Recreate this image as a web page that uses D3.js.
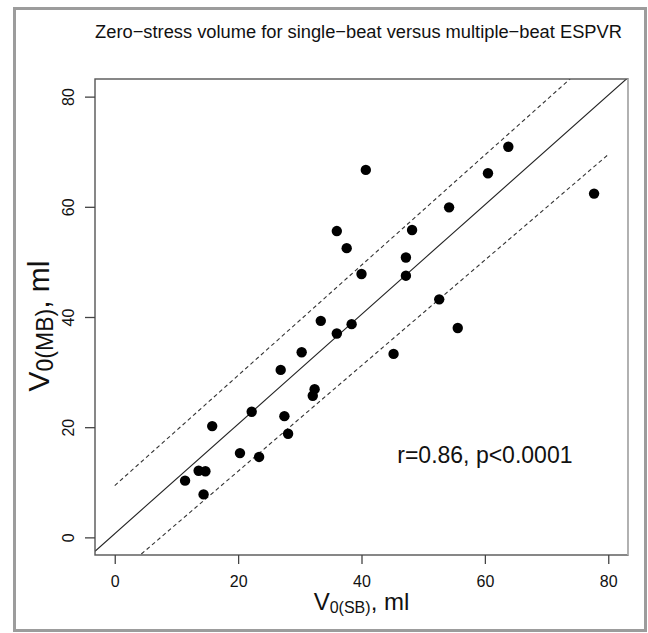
<!DOCTYPE html>
<html>
<head>
<meta charset="utf-8">
<script src="https://cdn.jsdelivr.net/npm/d3@7"></script>
<style>
  body { margin: 0; background: #fff; }
  text { font-family: "Liberation Sans", Arial, Helvetica, sans-serif; fill: #111; }
</style>
</head>
<body>
<div id="root"></div>
<script>
// single-beat (x) vs multiple-beat (y) zero-stress volume, ml
var v0SB = [40.7, 36.0, 37.6, 40.0, 33.4, 36.0, 38.4, 30.3, 63.8, 60.5, 77.7, 54.2, 48.2, 47.2, 47.2, 52.6,
            55.6, 45.2, 26.9, 22.2, 27.5, 32.4, 32.1, 28.1, 15.8, 20.3, 23.4, 13.6, 14.7, 11.4, 14.4];
var v0MB = [66.7, 55.6, 52.5, 47.8, 39.3, 37.0, 38.7, 33.6, 70.9, 66.1, 62.4, 59.9, 55.8, 50.8, 47.5, 43.2,
            38.0, 33.3, 30.4, 22.8, 22.0, 26.9, 25.7, 18.8, 20.2, 15.3, 14.6, 12.1, 12.0, 10.3, 7.8];
var ticks = [0, 20, 40, 60, 80];
// regression line [intercept, slope] and the two dashed bands (x from, x to, intercept, slope)
var fitLine = [0.67, 0.995];
var upperBand = [0, 80, 9.4, 1.0];
var lowerBand = [0, 80, -7.15, 0.958];
var statText = "r=0.86, p<0.0001";

var w = 648, h = 633;
var margin = {top: 79, right: 20, bottom: 78, left: 95};
var plotW = w - margin.left - margin.right;
var plotH = h - margin.top - margin.bottom;

var svg = d3.select("#root").append("svg").attr("width", w).attr("height", h);
svg.append("rect").attr("width", w).attr("height", h).attr("fill", "#fff");
// grey outer frame
svg.append("rect").attr("x", 14.5).attr("y", 8.5).attr("width", 631).attr("height", 622)
  .attr("fill", "none").attr("stroke", "#9c9c9c").attr("stroke-width", 3);

var xScale = d3.scaleLinear().domain([-3.2, 83.2]).range([0, plotW]);
var yScale = d3.scaleLinear().domain([-3.2, 83.2]).range([plotH, 0]);

var g = svg.append("g").attr("transform", "translate(" + margin.left + "," + margin.top + ")");
svg.append("defs").append("clipPath").attr("id", "clip")
  .append("rect").attr("width", plotW).attr("height", plotH);

var plot = g.append("g").attr("clip-path", "url(#clip)");

// lines
plot.append("line")
  .attr("x1", xScale(-3.2)).attr("y1", yScale(fitLine[0] + fitLine[1] * -3.2))
  .attr("x2", xScale(83.2)).attr("y2", yScale(fitLine[0] + fitLine[1] * 83.2))
  .attr("stroke", "#222").attr("stroke-width", 1.1);
[upperBand, lowerBand].forEach(function(b) {
  plot.append("line")
    .attr("x1", xScale(b[0])).attr("y1", yScale(b[2] + b[3] * b[0]))
    .attr("x2", xScale(b[1])).attr("y2", yScale(b[2] + b[3] * b[1]))
    .attr("stroke", "#333").attr("stroke-width", 1.1).attr("stroke-dasharray", "4,3");
});

// points
plot.selectAll("circle").data(v0SB).enter().append("circle")
  .attr("cx", function(d) { return xScale(d); })
  .attr("cy", function(d, i) { return yScale(v0MB[i]); })
  .attr("r", 5.2).attr("fill", "#000");

// box
g.append("rect").attr("width", plotW).attr("height", plotH)
  .attr("fill", "none").attr("stroke", "#555").attr("stroke-width", 1.4);
g.append("line").attr("x1", plotW).attr("x2", plotW).attr("y1", 0).attr("y2", plotH)
  .attr("stroke", "#c4c4c4").attr("stroke-width", 1.4);

// x axis
var xAxis = d3.axisBottom(xScale).tickValues(ticks).tickSize(9).tickPadding(12);
var gx = g.append("g").attr("transform", "translate(0," + plotH + ")").call(xAxis);
gx.select(".domain").remove();
gx.selectAll("line").attr("stroke", "#444").attr("stroke-width", 1.3);
gx.selectAll("text").style("font-size", "16px").attr("fill", "#222");

// y axis
var yAxis = d3.axisLeft(yScale).tickValues(ticks).tickSize(10).tickPadding(0);
var gy = g.append("g").call(yAxis);
gy.select(".domain").remove();
gy.selectAll("line").attr("stroke", "#444").attr("stroke-width", 1.3);
gy.selectAll("text").style("font-size", "16px").attr("fill", "#222")
  .attr("x", 0).attr("dy", null)
  .attr("transform", "translate(-27,0) rotate(-90)")
  .attr("text-anchor", "middle").attr("dominant-baseline", "central");

// title
svg.append("text").attr("x", margin.left + plotW / 2 - 3).attr("y", 38)
  .attr("text-anchor", "middle").style("font-size", "18.3px")
  .text("Zero\u2212stress volume for single\u2212beat versus multiple\u2212beat ESPVR");

// axis labels
var xl = svg.append("text").attr("x", margin.left + plotW / 2).attr("y", 610)
  .attr("text-anchor", "middle").style("font-size", "24px");
xl.append("tspan").text("V");
xl.append("tspan").attr("dy", 3).style("font-size", "16px").text("0(SB)");
xl.append("tspan").attr("dy", -3).text(", ml");

var yl = svg.append("text").attr("transform", "translate(49," + (margin.top + plotH / 2 + 9) + ") rotate(-90)")
  .attr("text-anchor", "middle").style("font-size", "30px");
yl.append("tspan").text("V");
yl.append("tspan").attr("dy", 4).style("font-size", "23px").text("0(MB)");
yl.append("tspan").attr("dy", -4).text(", ml");

// stat annotation
g.append("text").attr("x", xScale(60)).attr("y", yScale(15))
  .attr("text-anchor", "middle").attr("dominant-baseline", "central")
  .style("font-size", "23px").text(statText);
</script>
</body>
</html>
